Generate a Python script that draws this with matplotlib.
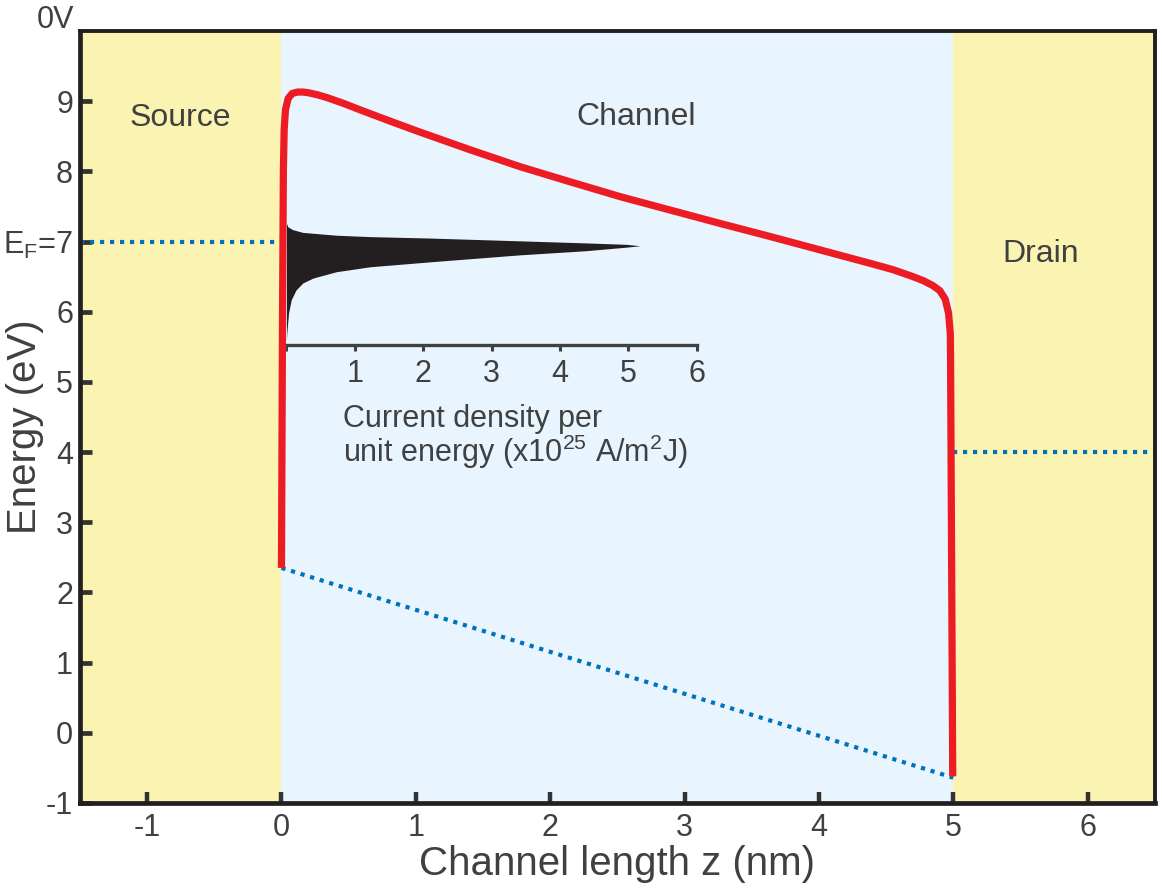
import numpy as np
import matplotlib.pyplot as plt

plt.rcParams['font.family'] = ['Liberation Sans', 'DejaVu Sans']
plt.rcParams['mathtext.fontset'] = 'custom'
plt.rcParams['mathtext.rm'] = 'Liberation Sans'
plt.rcParams['mathtext.default'] = 'regular'

# Conduction band edge along the channel (nm, eV)
band_z = [0.0, 0.008, 0.014, 0.02, 0.03, 0.05, 0.08, 0.12, 0.16, 0.2, 0.27, 0.34,
          0.46, 0.58, 0.83, 1.03, 1.40, 1.77, 2.15, 2.52, 2.89, 3.26, 3.64, 4.01,
          4.38, 4.55, 4.70, 4.78, 4.85, 4.90, 4.94, 4.965, 4.978, 4.98, 4.996]
band_e = [2.35, 6.0, 8.0, 8.6, 8.88, 9.04, 9.11, 9.13, 9.13, 9.12, 9.09, 9.05,
          8.97, 8.88, 8.70, 8.56, 8.31, 8.07, 7.85, 7.64, 7.45, 7.26, 7.07, 6.88,
          6.69, 6.60, 6.50, 6.44, 6.37, 6.30, 6.18, 5.98, 5.69, 5.31, -0.62]

# Valence-side reference line
valence_z = [0.0, 5.0]
valence_e = [2.35, -0.64]

fermi_source = 7.0
fermi_drain = 4.0

# Energy-resolved current density (x1e25 A/m^2 J)
current_e = [5.6, 5.69, 5.98, 6.17, 6.31, 6.41, 6.48, 6.57, 6.64, 6.71, 6.81, 6.87,
             6.92, 6.94, 6.96, 6.98, 7.01, 7.05, 7.07, 7.09, 7.13, 7.17, 7.21, 7.26]
current_j = [0, 0.005, 0.03, 0.07, 0.14, 0.24, 0.39, 0.73, 1.22, 2.09, 3.41, 4.39,
             4.97, 5.17, 4.97, 4.39, 3.41, 2.09, 1.22, 0.73, 0.24, 0.09, 0.02, 0]

x_ticks = [-1, 0, 1, 2, 3, 4, 5, 6]
y_ticks = [-1, 0, 1, 2, 3, 4, 5, 6, 7, 8, 9]
y_labels = ['-1', '0', '1', '2', '3', '4', '5', '6', r'E$_F$=7', '8', '9']

text_col = '#404040'
spine_col = '#231f20'
blue = '#0072bc'
red = '#ed1c24'

fig = plt.figure(figsize=(11.62, 8.93), dpi=100)
ax = fig.add_axes([0.0688, 0.1008, 0.925, 0.8645])

ax.axvspan(-1.5, 0, color='#fbf3b1', zorder=0, lw=0)
ax.axvspan(0, 5, color='#e8f5fe', zorder=0, lw=0)
ax.axvspan(5, 6.5, color='#fbf3b1', zorder=0, lw=0)

dots = (0, (1, 1.4))
ax.plot([-1.5, 0], [fermi_source, fermi_source], color=blue, lw=3, ls=dots,
        dash_capstyle='butt', zorder=2)
ax.plot([5, 6.5], [fermi_drain, fermi_drain], color=blue, lw=3, ls=dots,
        dash_capstyle='butt', zorder=2)
ax.plot(valence_z, valence_e, color=blue, lw=3, ls=dots, dash_capstyle='butt', zorder=2)

ax.plot(band_z, band_e, color=red, lw=5.2, solid_joinstyle='round',
        solid_capstyle='butt', zorder=4)

ax.set_xlim(-1.5, 6.5)
ax.set_ylim(-1, 10)
ax.set_xticks(x_ticks)
ax.set_xticklabels([str(t) for t in x_ticks])
ax.set_yticks(y_ticks)
ax.set_yticklabels(y_labels)
ax.tick_params(axis='both', direction='in', colors='#333333', labelcolor=text_col,
               labelsize=22)
ax.tick_params(axis='y', length=8.5, width=3.4, pad=5)
ax.tick_params(axis='x', length=8, width=3.2, pad=7)

for side in ['left', 'bottom']:
    ax.spines[side].set_linewidth(3.4)
    ax.spines[side].set_color(spine_col)
for side in ['top', 'right']:
    ax.spines[side].set_linewidth(2.8)
    ax.spines[side].set_color(spine_col)

ax.set_xlabel('Channel length z (nm)', fontsize=29, color=text_col, labelpad=2)
ax.set_ylabel('Energy (eV)', fontsize=29, color=text_col)
ax.yaxis.set_label_coords(-0.033, 0.487)

ax.annotate('0V', xy=(-1.5, 10), xytext=(-4, 2.5), textcoords='offset points',
            ha='right', va='baseline', fontsize=22, color=text_col,
            annotation_clip=False)

ax.text(-0.75, 8.76, 'Source', fontsize=23, color=text_col, ha='center', va='center')
ax.text(2.64, 8.77, 'Channel', fontsize=23, color=text_col, ha='center', va='center')
ax.text(5.65, 6.82, 'Drain', fontsize=23, color=text_col, ha='center', va='center')

# Inset: current density axis sharing the energy scale
ins = ax.inset_axes([0.037, 5.53, 3.054, 2.0], transform=ax.transData, zorder=3)
ins.patch.set_alpha(0)
ins.fill_betweenx(current_e, 0, current_j, color=spine_col, lw=0)
ins.set_xlim(0, 6)
ins.set_ylim(5.53, 7.53)
ins.set_yticks([])
ins.set_xticks([0, 1, 2, 3, 4, 5, 6])
ins.set_xticklabels(['', '1', '2', '3', '4', '5', '6'])
ins.tick_params(axis='x', direction='out', length=4, width=2.2, colors='#404040',
                labelcolor=text_col, labelsize=22, pad=6)
for side in ['left', 'top', 'right']:
    ins.spines[side].set_visible(False)
ins.spines['bottom'].set_linewidth(2.4)
ins.spines['bottom'].set_color('#404040')

ax.text(0.455, 4.36, 'Current density per', fontsize=22, color=text_col,
        ha='left', va='baseline')
ax.text(0.455, 3.86, r'unit energy (x10$^{25}$ A/m$^2$J)', fontsize=22, color=text_col,
        ha='left', va='baseline')

fig.savefig('out.png', dpi=100)
